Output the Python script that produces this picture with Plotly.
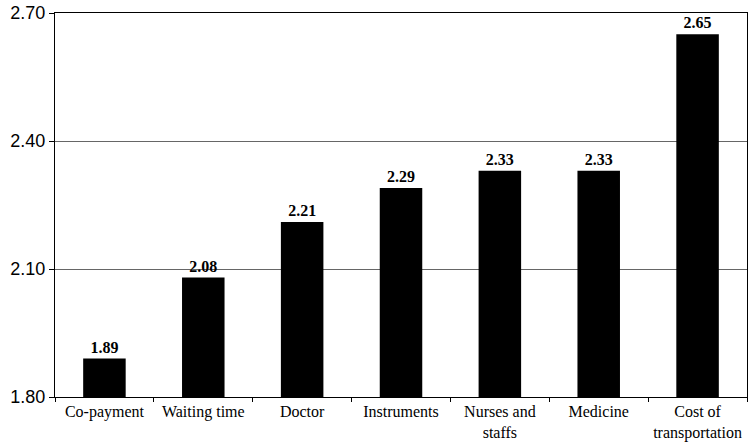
import plotly.graph_objects as go

categories = ["Co-payment", "Waiting time", "Doctor", "Instruments",
              "Nurses and<br>staffs", "Medicine", "Cost of<br>transportation"]
values = [1.89, 2.08, 2.21, 2.29, 2.33, 2.33, 2.65]
value_labels = ["1.89", "2.08", "2.21", "2.29", "2.33", "2.33", "2.65"]
y_ticks = [1.80, 2.10, 2.40, 2.70]
y_tick_labels = ["1.80", "2.10", "2.40", "2.70"]

fig = go.Figure(go.Bar(
    x=categories, y=values,
    marker=dict(color="black", line=dict(width=0)),
    width=0.43,
    text=value_labels, textposition="outside", cliponaxis=False,
    textfont=dict(family="Liberation Serif", size=16, color="black", weight="bold"),
))

fig.update_layout(
    width=753, height=448,
    margin=dict(l=55, r=6, t=13, b=51),
    paper_bgcolor="white", plot_bgcolor="white",
    showlegend=False,
    xaxis=dict(
        automargin=False, tickangle=0,
        showline=True, linecolor="black", linewidth=1, mirror=True,
        ticks="outside", tickson="boundaries", ticklen=4, tickcolor="black",
        tickfont=dict(family="Liberation Serif", size=16, color="black"),
        showgrid=False,
    ),
    yaxis=dict(
        automargin=False, ticklabeloverflow="allow",
        range=[1.80, 2.70], tickvals=y_ticks, ticktext=y_tick_labels,
        showline=True, linecolor="black", linewidth=1, mirror=True,
        ticks="outside", ticklen=5, tickcolor="black",
        tickfont=dict(family="Liberation Sans", size=18, color="black"),
        showgrid=True, gridcolor="#666666", gridwidth=1,
        zeroline=False,
    ),
)

fig.write_html("out.html", config={"displayModeBar": False},
               post_script="document.body.style.margin='0px';")
